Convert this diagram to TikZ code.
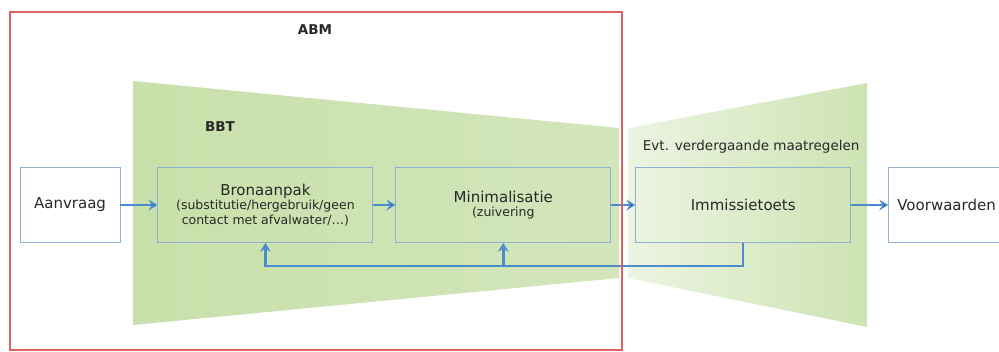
\documentclass[tikz,border=0pt]{standalone}
\usepackage{fontspec}
\setmainfont{DejaVu Sans}
\usepackage{tikz}
\usetikzlibrary{positioning,arrows.meta}
\definecolor{bbtgreen}{RGB}{200,224,170}
\definecolor{palegreen}{RGB}{236,244,226}
\definecolor{boxblue}{RGB}{143,177,210}
\definecolor{arrowblue}{RGB}{74,140,206}
\definecolor{abmred}{RGB}{222,98,98}
\definecolor{txtgray}{RGB}{40,40,40}
\newcommand{\subfont}{\fontsize{12.5}{15}\selectfont}
\tikzset{
	every node/.style = {font=\fontsize{15}{15}\selectfont, text=txtgray, inner sep = 0},
	stepbox/.style = {draw=boxblue, line width=0.9pt, minimum width=215pt, minimum height=75pt, align=center},
	endbox/.style = {stepbox, fill=white, minimum width=100pt},
	flow/.style = {draw=arrowblue, line width=2.4pt},
	>={Stealth[length=9pt,width=11pt,inset=3.5pt]}
}

\begin{document}
\begin{tikzpicture}[x=1pt, y=-1pt]
		\useasboundingbox (0,0) rectangle (999,352);
		% green funnels
		\shade[left color=bbtgreen, right color=bbtgreen!80!white] (133,81) -- (619,128) -- (619,278) -- (133,325) -- cycle;
		\shade[left color=palegreen, right color=bbtgreen!90!white] (628,128) -- (867,83) -- (867,327) -- (628,278) -- cycle;
		\node[font=\fontsize{13.5}{15}\selectfont\bfseries] (bbt) at (220,127) {BBT};
		\node[font=\fontsize{13.5}{15}\selectfont\bfseries] (abm) at (315,30) {ABM};
		
		\node[endbox] (aanvraag) at (70,205) {Aanvraag};
		\node[stepbox, right=37pt of aanvraag] (bron) {Bronaanpak\\[-1pt]{\subfont (substitutie/hergebruik/geen}\\{\subfont contact met afvalwater/…)}};
		\node[stepbox, right=22pt of bron] (minim) {Minimalisatie\\[-1pt]{\subfont (zuivering}};
		\node[stepbox, right=24pt of minim] (immissie) {Immissietoets};
		\node[endbox, minimum width=126pt, right=37pt of immissie] (voorwaarden) {\hspace*{-10pt}Voorwaarden};
		\node[font=\fontsize{13.5}{15}\selectfont, above=14pt of immissie.north, xshift=8pt] (evt) {Evt. verdergaande maatregelen};
		
		\path[flow,->] (aanvraag) edge (bron);
		\path[flow,->] (bron) edge (minim);
		\path[flow,->] (minim) edge (immissie);
		\path[flow,->] (immissie) edge (voorwaarden);
		
		% terugkoppeling
		\coordinate[below=23pt of immissie.south] (fb);
		\draw[flow,->] (immissie.south) -- (fb) -| (bron.south);
		\draw[flow,->] (minim.south |- fb) -- (minim.south);
		
		\draw[abmred, line width=1.8pt] (10,12) rectangle (622,350);
		\end{tikzpicture}
\end{document}
